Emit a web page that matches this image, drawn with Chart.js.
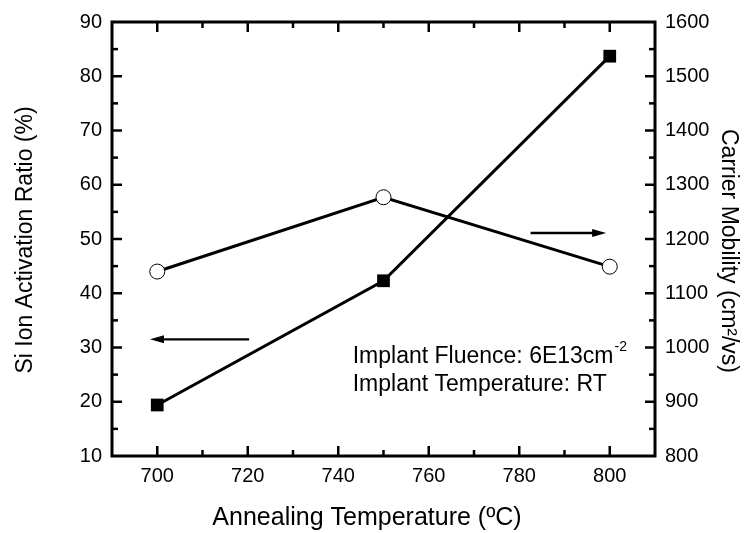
<!DOCTYPE html>
<html>
<head>
<meta charset="utf-8">
<script src="https://cdn.jsdelivr.net/npm/chart.js@4.4.1/dist/chart.umd.min.js"></script>
<style>
  html, body { margin: 0; padding: 0; background: #fff; }
  #wrap { width: 749px; height: 533px; }
</style>
</head>
<body>
<div id="wrap"><canvas id="myChart" width="749" height="533"></canvas></div>
<script>
const temps = [700, 750, 800];
const activationRatio = [19.4, 42.3, 83.7];
const carrierMobility = [1140, 1277, 1149];

// arrows pointing at each series' axis, in data units (x, left-axis y)
const leftArrow = [[720.3, 31.5], [698.4, 31.5]];
const rightArrow = [[782.5, 51.1], [799.2, 51.1]];

const noteLines = ['Implant Fluence: 6E13cm', 'Implant Temperature: RT'];
const noteSup = '-2';
const notePos = [743.2, 27.1, 21.9]; // x, baseline y of line 1 and line 2

const xTitle = 'Annealing Temperature (ºC)';
const yTitle = 'Si Ion Activation Ratio (%)';
const y1Title = 'Carrier Mobility (cm²/vs)';

const FONT = "'Liberation Sans', Arial, sans-serif";

const frameTicks = {
  id: 'frameTicks',
  afterDatasetsDraw(chart) {
    const { ctx, chartArea: a, scales } = chart;
    ctx.save();
    ctx.strokeStyle = '#000';
    ctx.lineCap = 'butt';

    ctx.lineWidth = 2.5;
    scales.x.ticks.forEach(t => {
      if (t.value <= 690 || t.value >= 810) return;
      const px = scales.x.getPixelForValue(t.value);
      const len = t.value % 20 === 0 ? 10 : 6;
      ctx.beginPath();
      ctx.moveTo(px, a.bottom); ctx.lineTo(px, a.bottom - len);
      ctx.moveTo(px, a.top); ctx.lineTo(px, a.top + len);
      ctx.stroke();
    });
    scales.y.ticks.forEach(t => {
      if (t.value <= 10 || t.value >= 90) return;
      const py = scales.y.getPixelForValue(t.value);
      const len = t.value % 10 === 0 ? 10 : 6;
      ctx.beginPath();
      ctx.moveTo(a.left, py); ctx.lineTo(a.left + len, py);
      ctx.stroke();
    });
    scales.y1.ticks.forEach(t => {
      if (t.value <= 800 || t.value >= 1600) return;
      const py = scales.y1.getPixelForValue(t.value);
      const len = t.value % 100 === 0 ? 10 : 6;
      ctx.beginPath();
      ctx.moveTo(a.right, py); ctx.lineTo(a.right - len, py);
      ctx.stroke();
    });

    ctx.lineWidth = 3;
    ctx.strokeRect(a.left, a.top, a.right - a.left, a.bottom - a.top);

    // arrows
    const drawArrow = (pts) => {
      const x0 = scales.x.getPixelForValue(pts[0][0]);
      const y0 = scales.y.getPixelForValue(pts[0][1]);
      const x1 = scales.x.getPixelForValue(pts[1][0]);
      const y1 = scales.y.getPixelForValue(pts[1][1]);
      const dir = Math.sign(x1 - x0);
      ctx.lineWidth = 2.4;
      ctx.beginPath();
      ctx.moveTo(x0, y0); ctx.lineTo(x1 - dir * 10, y1);
      ctx.stroke();
      ctx.beginPath();
      ctx.moveTo(x1, y1);
      ctx.lineTo(x1 - dir * 14, y1 - 4);
      ctx.lineTo(x1 - dir * 14, y1 + 4);
      ctx.closePath();
      ctx.fillStyle = '#000';
      ctx.fill();
    };
    drawArrow(leftArrow);
    drawArrow(rightArrow);

    // note text
    const nx = scales.x.getPixelForValue(notePos[0]);
    const ny1 = scales.y.getPixelForValue(notePos[1]);
    const ny2 = scales.y.getPixelForValue(notePos[2]);
    ctx.fillStyle = '#000';
    ctx.textBaseline = 'alphabetic';
    ctx.textAlign = 'left';
    ctx.font = '23px ' + FONT;
    ctx.fillText(noteLines[0], nx, ny1);
    const w = ctx.measureText(noteLines[0]).width;
    ctx.fillText(noteLines[1], nx, ny2);
    ctx.font = '14px ' + FONT;
    ctx.fillText(noteSup, nx + w + 1, ny1 - 12);

    // axis titles
    ctx.textAlign = 'center';
    ctx.font = '25px ' + FONT;
    ctx.fillText(xTitle, 367, 525);

    ctx.font = '23px ' + FONT;
    ctx.save();
    ctx.translate(32, 240);
    ctx.rotate(-Math.PI / 2);
    ctx.fillText(yTitle, 0, 0);
    ctx.restore();

    ctx.save();
    ctx.translate(722, 251);
    ctx.rotate(Math.PI / 2);
    ctx.fillText(y1Title, 0, 0);
    ctx.restore();

    ctx.restore();
  }
};

const ctx = document.getElementById('myChart').getContext('2d');

new Chart(ctx, {
  type: 'scatter',
  data: {
    datasets: [
      {
        label: 'Si Ion Activation Ratio',
        data: temps.map((t, i) => ({ x: t, y: activationRatio[i] })),
        yAxisID: 'y',
        showLine: true,
        borderColor: '#000',
        borderWidth: 3,
        pointStyle: 'rect',
        pointRadius: 9,
        pointBackgroundColor: '#000',
        pointBorderColor: '#000',
        pointBorderWidth: 0,
        order: 2
      },
      {
        label: 'Carrier Mobility',
        data: temps.map((t, i) => ({ x: t, y: carrierMobility[i] })),
        yAxisID: 'y1',
        showLine: true,
        borderColor: '#000',
        borderWidth: 3,
        pointStyle: 'circle',
        pointRadius: 7.5,
        pointBackgroundColor: '#fff',
        pointBorderColor: '#000',
        pointBorderWidth: 1,
        order: 1
      }
    ]
  },
  options: {
    responsive: false,
    animation: false,
    layout: { padding: { top: 20, left: 0, right: 0, bottom: 0 } },
    plugins: {
      legend: { display: false },
      tooltip: { enabled: false }
    },
    scales: {
      x: {
        type: 'linear',
        position: 'bottom',
        min: 690,
        max: 810,
        afterFit: s => { s.height = 77; },
        grid: { display: false, drawTicks: false },
        border: { display: false },
        ticks: {
          stepSize: 10,
          autoSkip: false,
          maxRotation: 0,
          padding: 8,
          color: '#000',
          font: { family: FONT, size: 20 },
          callback: v => (v % 20 === 0 && v >= 700 && v <= 800) ? v : ''
        }
      },
      y: {
        type: 'linear',
        position: 'left',
        min: 10,
        max: 90,
        afterFit: s => { s.width = 112; },
        grid: { display: false, drawTicks: false },
        border: { display: false },
        ticks: {
          stepSize: 5,
          autoSkip: false,
          padding: 10,
          color: '#000',
          font: { family: FONT, size: 20 },
          callback: v => v % 10 === 0 ? v : ''
        }
      },
      y1: {
        type: 'linear',
        position: 'right',
        min: 800,
        max: 1600,
        afterFit: s => { s.width = 94; },
        grid: { display: false, drawTicks: false },
        border: { display: false },
        ticks: {
          stepSize: 50,
          autoSkip: false,
          padding: 10,
          color: '#000',
          font: { family: FONT, size: 20 },
          callback: v => v % 100 === 0 ? v : ''
        }
      }
    }
  },
  plugins: [frameTicks]
});
</script>
</body>
</html>
